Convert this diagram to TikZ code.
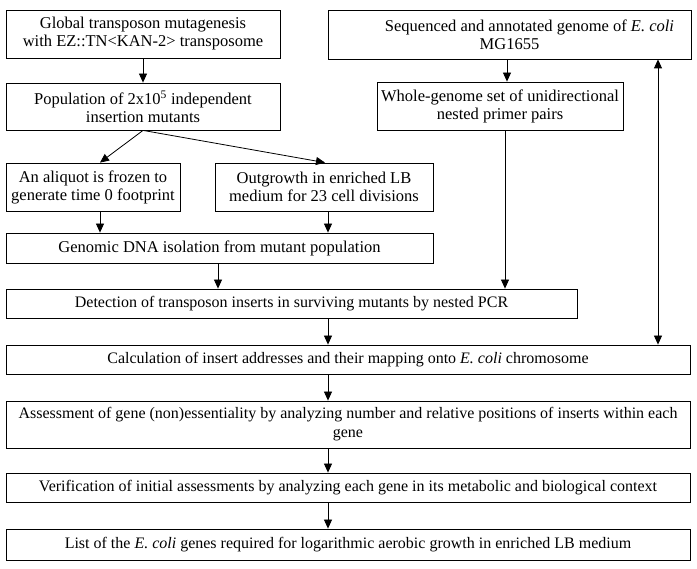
\documentclass[tikz,border=0pt]{standalone}
\usepackage{fontspec}
\setmainfont{Liberation Serif}
\usepackage{tikz}
\usetikzlibrary{arrows.meta}

\begin{document}
\begin{tikzpicture}[x=1pt, y=-1pt,
        box/.style={draw, line width=0.8pt, inner sep=0pt, align=center, font=\fontsize{16.5}{18}\selectfont},
        wide/.style={box, minimum width=684pt, font=\fontsize{16}{19}\selectfont},
        arr/.style={line width=0.8pt, -{Triangle[length=9pt, width=8pt]}},
        darr/.style={line width=0.8pt, {Triangle[length=9pt, width=8pt]}-{Triangle[length=9pt, width=8pt]}}]
        \useasboundingbox (0, 0) rectangle (697, 569);

        \node[box, minimum width=274pt, minimum height=48pt] (glob) at (143, 34) {Global transposon mutagenesis\\with EZ::TN<KAN-2> transposome};
        \node[box, minimum width=363pt, minimum height=49pt] (seq) at (509.5, 34.5) {\hspace*{40pt}Sequenced and annotated genome of \textit{E. coli}\\MG1655};
        \node[box, minimum width=274pt, minimum height=47pt] (pop) at (143, 106.5) {Population of 2x10\textsuperscript{5} independent\\insertion mutants};
        \node[box, minimum width=246pt, minimum height=48pt] (prim) at (500, 106) {Whole-genome set of unidirectional\\nested primer pairs};
        \node[box, minimum width=174pt, minimum height=48pt] (aliq) at (93, 187) {An aliquot is frozen to\\generate time 0 footprint};
        \node[box, minimum width=218pt, minimum height=48pt] (outg) at (324, 187) {Outgrowth in enriched LB\\medium for 23 cell divisions};
        \node[box, minimum width=427pt, minimum height=30pt] (geno) at (219.5, 248) {Genomic DNA isolation from mutant population};
        \node[wide, minimum width=571pt, minimum height=29pt] (det) at (291.5, 303.5) {Detection of transposon inserts in surviving mutants by nested PCR};
        \node[wide, minimum height=29pt] (calc) at (348, 359.5) {Calculation of insert addresses and their mapping onto \textit{E. coli} chromosome};
        \node[wide, minimum height=47pt] (ass) at (348, 424.5) {Assessment of gene (non)essentiality by analyzing number and relative positions of inserts within each\\gene};
        \node[wide, minimum height=29pt] (ver) at (348, 487.5) {Verification of initial assessments by analyzing each gene in its metabolic and biological context};
        \node[wide, minimum height=31pt] (list) at (348, 544.5) {List of the \textit{E. coli} genes required for logarithmic aerobic growth in enriched LB medium};

        \draw[arr] (glob) -- (pop);
        \draw[arr] ([xshift=-2.5pt]seq.south) -- ([xshift=-2.5pt]seq.south |- prim.north);
        \draw[arr] (pop.south) -- ([xshift=7pt]aliq.north);
        \draw[arr] (pop.south) -- ([xshift=1pt]outg.north);
        \draw[arr] ([xshift=7pt]aliq.south) -- ([xshift=7pt]aliq.south |- geno.north);
        \draw[arr] ([xshift=4pt]outg.south) -- ([xshift=4pt]outg.south |- geno.north);
        \draw[arr] ([xshift=-1.5pt]geno.south) -- ([xshift=-1.5pt]geno.south |- det.north);
        \draw[arr] ([xshift=5pt]prim.south) -- ([xshift=5pt]prim.south |- det.north);
        \draw[arr] ([xshift=36.5pt]det.south) -- ([xshift=36.5pt]det.south |- calc.north);
        \draw[darr] ([xshift=148.5pt]seq.south) -- ([xshift=148.5pt]seq.south |- calc.north);
        \draw[arr] ([xshift=-20pt]calc.south) -- ([xshift=-20pt]ass.north);
        \draw[arr] ([xshift=-20pt]ass.south) -- ([xshift=-20pt]ver.north);
        \draw[arr] ([xshift=-20pt]ver.south) -- ([xshift=-20pt]list.north);
\end{tikzpicture}
\end{document}
